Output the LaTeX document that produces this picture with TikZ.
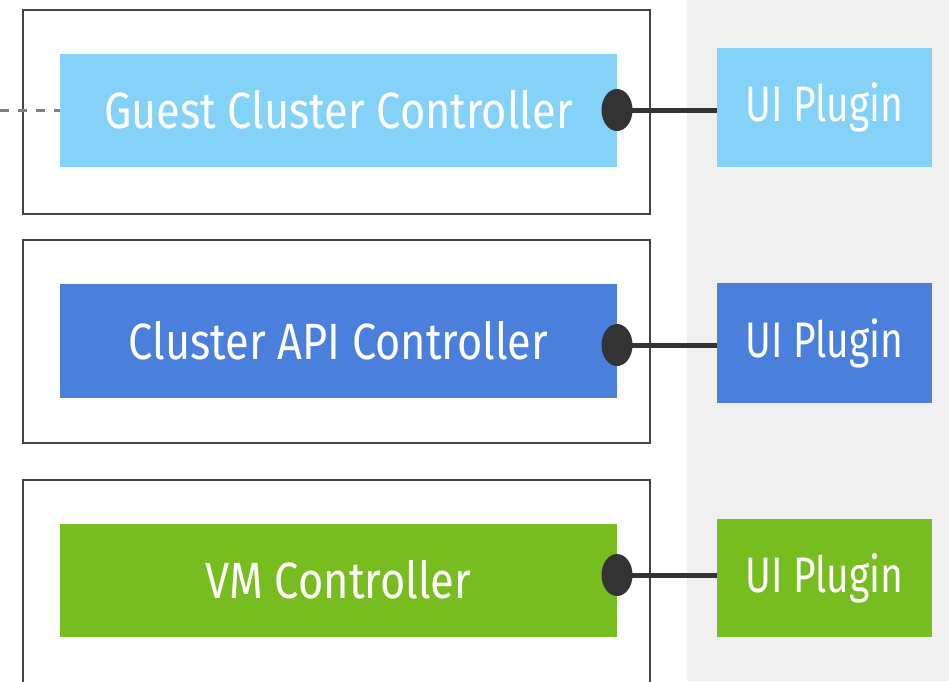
\documentclass[tikz,border=0pt]{standalone}
\usepackage{fontspec}
\usepackage{graphicx}
\setmainfont{Fira Sans}
\usetikzlibrary{shapes.geometric}
\definecolor{lblue}{HTML}{84D2F7}
\definecolor{mblue}{HTML}{4A80DC}
\definecolor{lgreen}{HTML}{78BD20}
\definecolor{panel}{HTML}{F0F0F0}
\definecolor{edge}{HTML}{444444}
\definecolor{dotc}{HTML}{333333}
\newcommand\ctrltext[1]{\scalebox{0.85}[1]{#1}}
\newcommand\plugtext[1]{\scalebox{0.78}[1]{#1}}
\tikzset{
  outerbox/.style={draw=edge, line width=2.6pt, fill=white, minimum width=627pt, inner sep=0pt},
  ctrl/.style={inner sep=0pt, minimum width=557pt, minimum height=113pt, text=white, font=\fontsize{51}{54}\selectfont},
  plug/.style={inner sep=0pt, minimum width=215pt, text=white, font=\fontsize{50}{54}\selectfont},
  dotnode/.style={ellipse, fill=dotc, inner sep=0pt, minimum width=31pt, minimum height=42pt},
  link/.style={draw=dotc, line width=5pt},
  dashlink/.style={draw=gray, line width=3pt, dash pattern=on 9pt off 9pt}
}
\begin{document}
\begin{tikzpicture}[x=1pt,y=-1pt]
\useasboundingbox (0,0) rectangle (949,681);
\clip (0,0) rectangle (949,681);
\fill[panel] (687,0) rectangle (949,681);
% outer boxes
\node[outerbox, minimum height=204pt] (o1) at (336.5,112) {};
\node[outerbox, minimum height=203pt] (o2) at (336.5,341.5) {};
\node[outerbox, minimum height=240pt] (o3) at (336.5,600) {};
% controllers
\node[ctrl, fill=lblue] (c1) at (338.5,110) {\ctrltext{Guest Cluster Controller}};
\node[ctrl, fill=mblue, minimum height=114pt] (c2) at (338.5,340.5) {\ctrltext{Cluster API Controller}};
\node[ctrl, fill=lgreen] (c3) at (338.5,580) {\ctrltext{VM Controller}};
% plugins
\node[plug, fill=lblue, minimum height=119pt] (p1) at (824.5,107.5) {\plugtext{UI Plugin}};
\node[plug, fill=mblue, minimum height=120pt] (p2) at (824.5,343) {\plugtext{UI Plugin}};
\node[plug, fill=lgreen, minimum height=118pt] (p3) at (824.5,578) {\plugtext{UI Plugin}};
% dots
\node[dotnode] (d1) at (617,110) {};
\node[dotnode] (d2) at (617,345) {};
\node[dotnode] (d3) at (617,575) {};
\draw[link] (d1.center) -- (d1.center -| p1.west);
\draw[link] (d2.center) -- (d2.center -| p2.west);
\draw[link] (d3.center) -- (d3.center -| p3.west);
% dashed external link
\coordinate (ext) at (0,110);
\draw[dashlink] (ext) -- (ext -| c1.west);
\end{tikzpicture}
\end{document}
